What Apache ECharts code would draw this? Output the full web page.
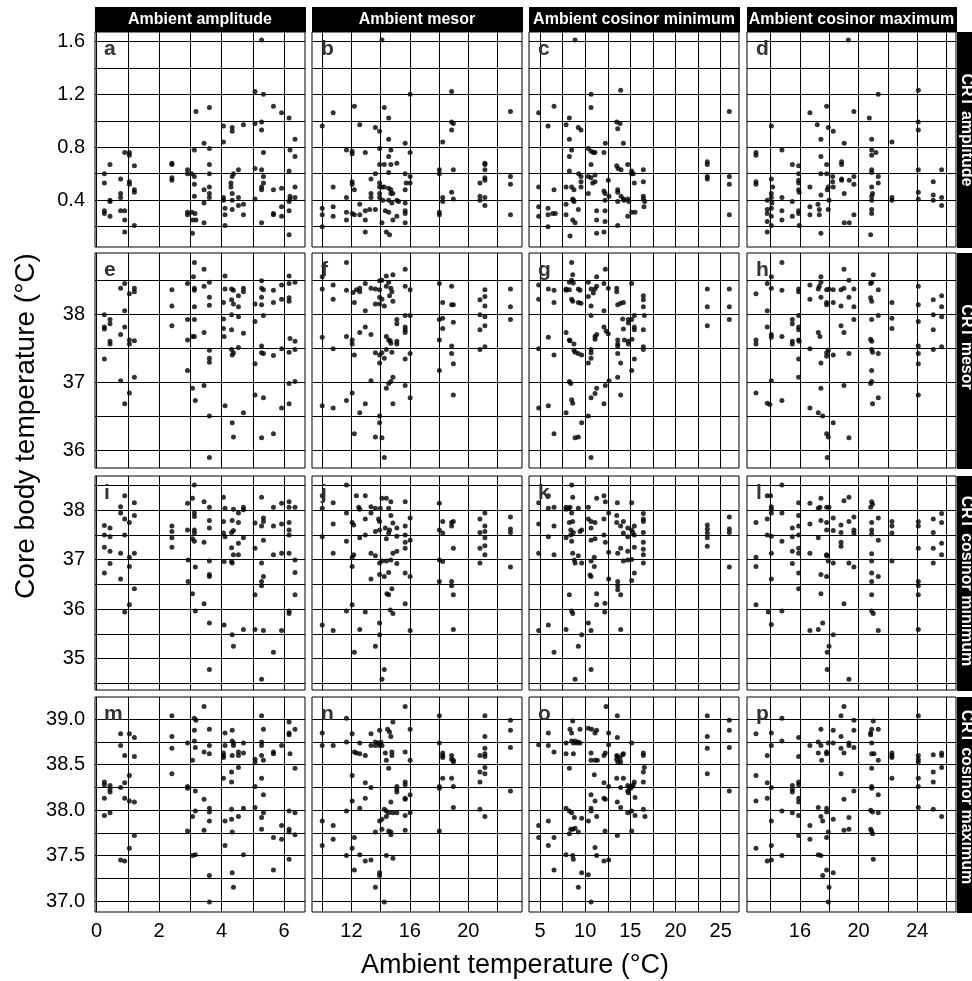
<!DOCTYPE html>
<html><head><meta charset="utf-8">
<script src="https://cdn.jsdelivr.net/npm/echarts@6/dist/echarts.min.js"></script>
<style>html,body{margin:0;padding:0;background:#fff}#c{width:972px;height:981px}</style>
</head><body><div id="c"></div>
<script>
// ---------- labels ----------
const colStrips = ["Ambient amplitude", "Ambient mesor", "Ambient cosinor minimum", "Ambient cosinor maximum"];
const rowStrips = ["CRT amplitude", "CRT mesor", "CRT cosinor minimum", "CRT cosinor maximum"];
const panelLetters = ["a","b","c","d","e","f","g","h","i","j","k","l","m","n","o","p"];
const xTitle = "Ambient temperature (°C)";
const yTitle = "Core body temperature (°C)";

// ---------- axes ----------
const xRanges = [[-0.05, 6.67], [9.3, 23.68], [3.78, 27.03], [12.39, 26.64]];
const yRanges = [[0.047, 1.67], [35.735, 38.9], [34.365, 38.69], [36.879, 39.245]];
const xTicks = [[0, 2, 4, 6], [12, 16, 20], [5, 10, 15, 20, 25], [16, 20, 24]];
const yTicks = [[0.4, 0.8, 1.2, 1.6], [36, 37, 38], [35, 36, 37, 38], [37, 37.5, 38, 38.5, 39]];
const xGridVals = [[0,1,2,3,4,5,6], [10,12,14,16,18,20,22], [5,7.5,10,12.5,15,17.5,20,22.5,25], [14,16,18,20,22,24,26]];
const yGridVals = [[0.2,0.4,0.6,0.8,1.0,1.2,1.4,1.6], [36,36.5,37,37.5,38,38.5], [34.5,35,35.5,36,36.5,37,37.5,38,38.5], [37,37.25,37.5,37.75,38,38.25,38.5,38.75,39]];

// ---------- data (x = ambient, y = core body temperature) ----------
const pa = [[0.25,0.60],[0.25,0.53],[0.25,0.32],[0.25,0.30],[0.43,0.67],[0.43,0.40],[0.43,0.39],[0.43,0.28],[0.77,0.56],[0.77,0.45],[0.77,0.42],[0.77,0.32],[0.90,0.76],[0.90,0.32],[0.90,0.25],[0.90,0.16],[1.05,0.76],[1.05,0.74],[1.05,0.54],[1.05,0.52],[1.21,0.66],[1.21,0.48],[1.21,0.46],[1.21,0.21],[2.41,0.68],[2.41,0.67],[2.41,0.57],[2.41,0.55],[2.91,0.63],[2.91,0.60],[2.91,0.31],[2.91,0.29],[3.04,0.60],[3.07,0.15],[3.13,0.78],[3.13,0.58],[3.13,0.52],[3.13,0.43],[3.18,1.07],[3.05,0.31],[3.07,0.25],[3.15,0.30],[3.18,0.25],[3.44,0.83],[3.44,0.48],[3.44,0.38],[3.44,0.23],[3.61,1.10],[3.61,0.79],[3.61,0.67],[3.61,0.60],[3.61,0.50],[3.61,0.45],[3.61,0.42],[4.06,0.96],[4.06,0.84],[4.06,0.42],[4.06,0.40],[4.11,0.34],[4.11,0.29],[4.11,0.21],[4.34,0.95],[4.34,0.92],[4.30,0.53],[4.30,0.50],[4.34,0.58],[4.34,0.45],[4.34,0.40],[4.34,0.33],[4.38,0.60],[4.54,0.63],[4.54,0.42],[4.54,0.36],[4.70,0.97],[4.70,0.37],[4.70,0.29],[5.07,0.98],[5.07,1.22],[5.07,0.64],[5.07,0.41],[5.28,1.61],[5.28,0.99],[5.28,0.93],[5.28,0.63],[5.28,0.50],[5.28,0.48],[5.28,0.23],[5.34,1.20],[5.34,0.76],[5.34,0.58],[5.34,0.53],[5.66,1.11],[5.66,0.48],[5.66,0.30],[5.66,0.29],[5.92,1.06],[5.92,0.49],[5.92,0.35],[5.92,0.28],[6.16,1.02],[6.16,0.62],[6.16,0.39],[6.16,0.32],[6.16,0.14],[6.19,0.78],[6.19,0.43],[6.19,0.41],[6.35,0.86],[6.35,0.73],[6.35,0.50],[6.35,0.42]];
const pb = [[10.0,0.96],[10.0,0.34],[10.0,0.29],[10.0,0.20],[10.75,1.06],[10.75,0.50],[10.75,0.35],[10.75,0.28],[11.66,0.42],[11.66,0.78],[11.66,0.31],[11.66,0.25],[12.05,0.77],[12.05,0.75],[12.05,0.54],[12.05,0.52],[12.05,0.30],[12.2,1.11],[12.2,0.48],[12.2,0.29],[12.57,0.97],[12.57,0.37],[12.57,0.29],[12.95,0.76],[12.95,0.32],[12.95,0.25],[12.95,0.16],[13.25,0.33],[13.34,0.56],[13.34,0.45],[13.34,0.42],[13.64,0.95],[13.64,0.33],[13.64,0.60],[13.93,0.92],[13.93,0.79],[13.93,0.67],[13.93,0.53],[13.93,0.50],[13.93,0.45],[13.93,0.42],[14.09,1.61],[14.09,0.50],[14.09,0.23],[14.16,0.40],[14.25,1.10],[14.25,0.67],[14.25,0.50],[14.32,0.32],[14.39,0.16],[14.55,1.02],[14.55,0.86],[14.55,0.73],[14.55,0.61],[14.55,0.49],[14.55,0.40],[14.55,0.31],[14.61,0.14],[14.7,0.78],[14.7,0.67],[14.7,0.48],[14.7,0.45],[14.77,0.38],[14.84,0.25],[14.84,0.45],[15.11,0.68],[15.11,0.40],[15.11,0.28],[15.23,0.39],[15.68,0.83],[15.68,0.60],[15.68,0.48],[15.68,0.38],[15.68,0.32],[15.68,0.30],[15.68,0.23],[15.75,0.53],[16.02,1.20],[16.02,0.76],[16.02,0.58],[16.02,0.53],[18.02,0.63],[18.02,0.60],[18.02,0.31],[18.02,0.29],[18.25,0.84],[18.25,0.42],[18.25,0.39],[18.86,1.22],[18.86,0.99],[18.86,0.93],[18.86,0.46],[18.98,0.98],[18.98,0.63],[18.98,0.41],[20.8,0.53],[20.8,0.43],[20.8,0.40],[21.14,0.68],[21.14,0.67],[21.14,0.63],[21.14,0.57],[21.14,0.55],[21.14,0.42],[21.14,0.36],[22.89,1.07],[22.89,0.58],[22.89,0.52],[22.89,0.29]];
const pc = [[4.85,1.06],[4.85,0.50],[4.85,0.35],[4.85,0.28],[5.89,0.96],[5.89,0.34],[5.89,0.29],[5.89,0.20],[6.55,1.11],[6.55,0.48],[6.4,0.30],[6.7,0.30],[7.88,0.97],[7.88,0.50],[7.88,0.37],[7.88,0.29],[8.25,1.02],[8.25,0.86],[8.25,0.73],[8.25,0.62],[8.32,0.13],[8.5,0.78],[8.5,0.50],[8.62,0.41],[8.69,0.40],[8.62,0.25],[8.88,1.61],[8.88,0.23],[8.76,0.48],[8.76,0.39],[9.24,0.95],[9.24,0.33],[9.28,0.60],[9.54,0.93],[9.54,0.58],[9.54,0.54],[9.54,0.50],[10.35,0.79],[10.35,0.58],[10.35,0.45],[10.65,1.20],[10.65,1.10],[10.65,0.77],[10.65,0.67],[10.65,0.57],[10.83,0.53],[10.9,0.76],[11.09,0.76],[11.09,0.59],[11.09,0.54],[11.27,0.32],[11.27,0.25],[11.27,0.15],[12.08,0.76],[12.23,0.83],[12.08,0.47],[12.2,0.45],[12.2,0.40],[12.2,0.32],[12.2,0.24],[12.08,0.16],[12.56,0.55],[12.64,0.43],[13.49,0.99],[13.6,0.94],[13.86,0.98],[13.93,1.23],[13.49,0.66],[13.64,0.64],[13.6,0.48],[13.6,0.46],[13.6,0.39],[13.6,0.21],[13.97,0.63],[13.97,0.43],[14.23,0.83],[14.23,0.41],[14.3,0.40],[14.71,0.67],[14.71,0.41],[14.71,0.28],[14.82,0.39],[15.15,0.62],[15.15,0.60],[15.15,0.31],[15.33,0.60],[15.44,0.53],[15.52,0.31],[16.44,0.63],[16.44,0.54],[16.44,0.43],[16.44,0.41],[16.51,0.35],[16.59,0.39],[23.52,0.69],[23.52,0.67],[23.52,0.58],[23.52,0.56],[25.96,1.07],[25.96,0.58],[25.96,0.52],[25.96,0.29]];
const pd = [[13.0,0.76],[13.0,0.74],[13.0,0.54],[13.0,0.52],[13.77,0.40],[13.77,0.33],[13.77,0.30],[13.77,0.24],[13.77,0.16],[14.05,0.96],[14.05,0.56],[14.05,0.45],[14.05,0.42],[14.05,0.34],[14.05,0.28],[14.05,0.21],[14.09,0.38],[14.14,0.50],[14.77,0.78],[14.77,0.42],[14.77,0.32],[14.77,0.25],[15.48,0.67],[15.48,0.39],[15.48,0.28],[15.91,0.66],[15.91,0.60],[15.91,0.55],[15.91,0.53],[15.91,0.48],[15.95,0.46],[15.91,0.32],[15.91,0.30],[15.95,0.21],[16.68,1.06],[16.68,0.50],[16.68,0.35],[16.68,0.29],[17.18,0.97],[17.23,0.37],[17.32,0.33],[17.32,0.29],[17.43,0.86],[17.43,0.73],[17.43,0.60],[17.43,0.44],[17.43,0.15],[17.82,1.11],[17.82,0.67],[17.82,0.60],[17.86,0.48],[17.93,0.95],[17.93,0.50],[17.93,0.33],[17.98,0.40],[18.27,0.92],[18.23,0.58],[18.23,0.54],[18.27,0.50],[18.84,0.69],[18.84,0.67],[18.84,0.56],[18.84,0.55],[19.02,0.83],[19.02,0.45],[19.02,0.23],[19.36,0.23],[19.36,0.55],[19.3,1.61],[19.68,1.07],[19.68,0.58],[19.68,0.52],[19.68,0.29],[20.73,1.02],[20.89,0.86],[20.89,0.78],[20.89,0.74],[20.89,0.63],[20.89,0.61],[20.89,0.50],[20.89,0.43],[20.89,0.40],[20.89,0.33],[20.89,0.30],[20.82,0.14],[20.95,0.45],[21.18,0.76],[21.34,1.20],[21.34,0.58],[21.34,0.53],[22.27,0.84],[22.27,0.42],[22.27,0.40],[24.07,1.23],[24.07,0.99],[24.07,0.93],[24.07,0.63],[24.07,0.46],[24.07,0.41],[25.09,0.54],[25.09,0.44],[25.09,0.40],[25.66,0.63],[25.66,0.42],[25.66,0.36]];
const pe = [[0.25,37.99],[0.25,37.81],[0.25,37.78],[0.25,37.34],[0.43,37.92],[0.43,37.86],[0.43,37.6],[0.43,37.56],[0.77,38.38],[0.77,37.7],[0.77,37.02],[0.9,38.45],[0.9,38.05],[0.9,37.81],[0.9,36.68],[1.05,38.3],[1.05,37.62],[1.05,37.56],[1.05,36.84],[1.21,38.38],[1.21,38.33],[1.21,37.61],[1.21,37.07],[2.41,38.36],[2.41,38.12],[2.41,37.83],[2.91,38.45],[2.91,37.92],[2.91,37.62],[2.91,37.17],[3.07,36.91],[3.1,38.55],[3.13,38.76],[3.13,38.38],[3.13,38.35],[3.13,38.11],[3.13,37.92],[3.13,37.67],[3.16,36.73],[3.07,37.67],[3.44,38.66],[3.44,38.41],[3.44,37.73],[3.44,36.95],[3.61,38.47],[3.61,38.25],[3.61,38.13],[3.61,37.47],[3.61,37.35],[3.61,37.29],[3.61,36.5],[3.61,35.89],[4.06,38.17],[4.06,37.93],[4.06,37.79],[4.08,37.67],[4.11,38.56],[4.11,38.37],[4.11,36.65],[4.32,38.37],[4.32,38.21],[4.32,37.99],[4.32,37.77],[4.32,37.48],[4.34,37.4],[4.34,36.4],[4.38,38.35],[4.38,38.15],[4.38,36.19],[4.38,37.43],[4.54,38.27],[4.54,38.11],[4.54,37.96],[4.54,37.51],[4.7,38.38],[4.7,38.33],[4.7,37.72],[4.7,36.55],[5.07,38.15],[5.07,37.89],[5.07,37.27],[5.07,36.81],[5.28,38.49],[5.28,38.38],[5.28,38.25],[5.28,38.14],[5.28,37.53],[5.28,37.43],[5.28,36.18],[5.34,38.36],[5.34,37.98],[5.34,37.42],[5.34,36.77],[5.66,38.35],[5.66,38.17],[5.66,37.39],[5.66,36.24],[5.92,38.43],[5.92,38.22],[5.92,37.49],[5.92,36.62],[6.16,38.56],[6.16,38.45],[6.16,38.24],[6.16,38.19],[6.16,37.44],[6.16,36.98],[6.16,36.68],[6.19,37.64],[6.35,38.47],[6.35,37.6],[6.35,37.48],[6.35,37.01]];
const pf = [[10,38.55],[10,38.37],[10,37.66],[10,36.65],[10.75,38.43],[10.75,38.22],[10.75,37.49],[10.75,36.62],[11.66,38.76],[11.66,38.35],[11.66,37.67],[11.66,36.73],[12.05,37.62],[12.05,37.56],[12.05,36.84],[12.11,38.32],[12.2,38.17],[12.2,37.4],[12.2,36.24],[12.34,38.36],[12.57,38.38],[12.57,38.33],[12.57,37.73],[12.57,36.55],[12.95,38.05],[12.95,37.81],[12.95,36.68],[12.95,38.45],[13.34,38.38],[13.34,37.7],[13.34,37.02],[13.64,38.37],[13.64,38.15],[13.64,37.43],[13.64,36.19],[13.93,38.49],[13.93,38.36],[13.93,38.25],[13.93,38.15],[13.93,37.4],[13.93,37.28],[13.93,36.5],[13.93,36.4],[14.09,36.18],[14.09,38.5],[14.09,38.22],[14.09,37.43],[14.25,38.12],[14.25,37.35],[14.25,35.89],[14.39,38.56],[14.39,38.41],[14.39,37.67],[14.39,37.48],[14.39,36.91],[14.55,38.47],[14.55,37.62],[14.55,36.98],[14.61,38.27],[14.66,37.61],[14.7,38.38],[14.7,37.57],[14.7,37.01],[14.77,38.33],[14.77,37.44],[14.84,38.58],[14.84,38.19],[14.84,37.07],[14.84,36.68],[15.11,37.92],[15.11,37.86],[15.11,37.6],[15.11,37.56],[15.68,38.66],[15.68,38.41],[15.68,37.98],[15.68,37.81],[15.68,37.77],[15.68,37.73],[15.68,37.34],[15.68,36.95],[16.02,38.36],[16.02,37.98],[16.02,37.42],[16.02,36.77],[18.02,38.45],[18.02,37.92],[18.02,37.62],[18.02,37.17],[18.25,37.94],[18.25,37.79],[18.25,38.17],[18.86,38.41],[18.86,38.14],[18.86,37.53],[18.86,37.42],[18.98,38.14],[18.98,37.88],[18.98,37.27],[18.98,36.81],[20.8,38.21],[20.8,37.99],[20.8,37.77],[20.8,37.48],[21.14,38.36],[21.14,38.26],[21.14,38.12],[21.14,37.96],[21.14,37.83],[21.14,37.52],[22.89,38.37],[22.89,38.11],[22.89,37.92]];
const pg = [[4.85,38.43],[4.85,38.22],[4.85,37.49],[4.85,36.62],[5.92,38.37],[5.92,37.66],[5.92,36.65],[6.55,38.35],[6.55,38.17],[6.55,37.4],[6.55,36.24],[7.88,38.37],[7.88,38.35],[7.88,37.73],[7.88,36.55],[8.25,38.47],[8.25,38.36],[8.25,37.62],[8.25,37.01],[8.32,37.61],[8.4,36.98],[8.5,38.76],[8.5,38.5],[8.5,38.22],[8.5,36.74],[8.62,38.58],[8.62,38.19],[8.62,36.69],[8.69,38.46],[8.76,37.56],[8.76,37.47],[8.88,37.44],[8.88,36.18],[9.24,38.37],[9.24,38.17],[9.24,37.42],[9.24,36.19],[9.43,38.35],[9.54,38.16],[9.61,37.4],[9.61,36.4],[10.35,38.47],[10.35,38.26],[10.35,37.28],[10.35,36.5],[10.65,38.37],[10.65,38.12],[10.65,37.98],[10.65,37.48],[10.65,37.43],[10.65,37.35],[10.65,36.77],[10.65,35.89],[10.9,38.31],[11.09,38.37],[11.09,37.67],[11.09,37.63],[11.09,36.83],[11.27,38.55],[11.27,38.41],[11.27,37.7],[11.27,36.91],[12.08,38.45],[12.08,38.05],[12.08,37.81],[12.08,36.68],[12.23,38.66],[12.23,36.95],[12.31,37.75],[12.56,38.38],[12.56,37.71],[12.64,37.02],[13.49,38.38],[13.49,38.33],[13.6,38.14],[13.6,37.62],[13.6,37.56],[13.6,37.53],[13.6,37.42],[13.6,37.07],[13.93,38.16],[13.93,37.28],[13.93,36.81],[14.23,38.17],[14.15,37.93],[14.23,37.78],[14.34,37.62],[14.78,37.92],[14.78,37.87],[14.78,37.6],[14.78,37.56],[15.15,38.45],[15.15,37.92],[15.15,37.17],[15.18,37.63],[15.44,37.98],[15.44,37.81],[15.44,37.77],[15.44,37.34],[16.44,38.27],[16.44,38.21],[16.44,38.11],[16.44,37.77],[16.44,37.52],[16.44,37.48],[16.55,37.98],[23.52,38.37],[23.52,38.11],[23.52,37.83],[25.96,38.37],[25.96,38.11],[25.96,37.92]];
const ph = [[13.0,38.3],[13.0,37.62],[13.0,37.56],[13.0,36.84],[13.77,38.45],[13.77,38.05],[13.77,37.81],[13.77,36.69],[13.95,36.67],[14.05,38.55],[14.05,38.38],[14.05,37.7],[14.05,37.66],[14.05,37.02],[14.77,38.76],[14.77,38.35],[14.77,37.67],[14.77,36.73],[15.48,37.92],[15.48,37.86],[15.48,37.6],[15.48,37.56],[15.91,38.37],[15.91,38.33],[15.91,37.98],[15.91,37.81],[15.91,37.77],[15.91,37.62],[15.91,37.34],[15.91,37.07],[15.95,37.6],[16.68,38.43],[16.68,38.22],[16.68,37.49],[16.68,36.62],[17.25,38.37],[17.25,37.73],[17.25,36.55],[17.32,38.41],[17.36,37.67],[17.43,38.55],[17.43,38.47],[17.43,38.25],[17.43,37.28],[17.43,36.91],[17.55,36.5],[17.82,38.36],[17.82,38.17],[17.82,38.14],[17.82,37.43],[17.82,37.38],[17.82,36.24],[17.93,36.19],[17.93,37.47],[17.86,35.89],[17.98,38.37],[18.27,38.36],[18.27,38.17],[18.27,37.4],[18.27,36.4],[18.8,38.36],[18.8,38.12],[18.8,37.83],[19.0,38.66],[19.0,38.38],[19.0,37.73],[19.0,36.95],[19.34,38.5],[19.34,38.25],[19.34,37.42],[19.34,36.18],[19.68,38.37],[19.68,38.11],[19.68,37.92],[20.82,38.45],[20.82,38.24],[20.82,37.63],[20.82,36.98],[20.89,38.47],[20.89,38.19],[20.89,37.92],[20.89,37.6],[20.89,37.48],[20.89,37.17],[20.89,37.01],[20.95,37.44],[20.95,36.68],[21.0,38.58],[21.34,38.36],[21.34,37.98],[21.34,37.42],[21.34,36.77],[22.27,38.17],[22.27,37.94],[22.27,37.79],[24.07,38.41],[24.07,38.14],[24.07,37.89],[24.07,37.53],[24.07,37.42],[24.07,37.27],[24.07,36.81],[25.09,38.21],[25.09,37.99],[25.09,37.77],[25.09,37.48],[25.66,38.27],[25.66,38.11],[25.66,37.96],[25.66,37.52]];
const pi = [[0.25,37.69],[0.25,37.5],[0.25,37.25],[0.25,36.73],[0.43,37.64],[0.43,37.46],[0.43,37.17],[0.43,36.92],[0.77,38.07],[0.77,37.94],[0.77,37.13],[0.77,36.61],[0.9,38.29],[0.9,37.82],[0.9,37.5],[0.9,35.94],[1.05,37.75],[1.05,37.05],[1.05,36.86],[1.05,36.09],[1.21,38.15],[1.21,37.89],[1.21,37.13],[1.21,36.41],[2.41,37.68],[2.41,37.57],[2.41,37.44],[2.41,37.25],[2.91,38.14],[2.91,37.6],[2.93,36.99],[2.93,36.56],[3.07,38.24],[3.07,37.42],[3.07,36.31],[3.13,38.51],[3.13,37.94],[3.13,37.87],[3.13,37.6],[3.13,37.54],[3.13,37.37],[3.16,36.85],[3.16,35.96],[3.44,38.17],[3.44,37.35],[3.44,36.11],[3.61,38.06],[3.61,37.79],[3.61,37.64],[3.61,36.97],[3.61,36.7],[3.61,36.66],[3.61,35.72],[3.61,34.78],[4.06,38.26],[4.06,37.77],[4.06,37.54],[4.08,36.96],[4.08,35.68],[4.11,38.04],[4.11,37.46],[4.32,37.55],[4.32,37.24],[4.32,36.96],[4.34,36.93],[4.34,37.79],[4.34,35.48],[4.38,38.02],[4.38,37.59],[4.38,37.1],[4.38,35.25],[4.54,37.94],[4.54,37.75],[4.54,37.33],[4.54,37.1],[4.7,38.06],[4.7,38.01],[4.7,37.44],[4.7,35.59],[5.07,37.74],[5.07,37.23],[5.07,36.29],[5.07,35.59],[5.28,38.26],[5.28,37.68],[5.28,36.93],[5.28,36.56],[5.28,36.47],[5.28,34.58],[5.34,37.84],[5.34,37.77],[5.34,37.39],[5.34,36.66],[5.34,35.57],[5.66,38.06],[5.66,37.68],[5.66,37.1],[5.66,35.13],[5.92,38.14],[5.92,37.72],[5.92,37.13],[5.92,35.57],[6.16,38.17],[6.16,38.06],[6.16,37.75],[6.16,37.6],[6.16,37.5],[6.16,37.13],[6.16,35.96],[6.16,35.91],[6.35,38.06],[6.35,36.99],[6.35,36.74],[6.35,36.29]];
const pj = [[10.0,38.29],[10.0,38.04],[10.0,37.46],[10.0,35.68],[10.75,38.15],[10.75,37.72],[10.75,37.13],[10.75,35.57],[11.66,38.51],[11.66,37.94],[11.66,37.37],[11.66,35.96],[12.05,37.75],[12.05,37.05],[12.05,36.86],[12.05,36.09],[12.16,37.7],[12.16,37.1],[12.2,35.13],[12.34,38.29],[12.5,38.06],[12.57,38.02],[12.57,37.44],[12.57,35.59],[12.95,38.29],[12.95,37.82],[12.95,37.5],[12.95,35.94],[13.34,38.07],[13.34,37.94],[13.34,37.13],[13.34,36.61],[13.64,38.04],[13.64,37.57],[13.64,37.08],[13.64,35.25],[13.86,37.82],[13.93,37.77],[13.93,37.6],[13.93,36.93],[13.93,36.7],[13.93,35.72],[13.93,35.48],[13.98,38.04],[14.09,38.24],[14.09,34.58],[14.09,36.97],[14.25,36.66],[14.25,34.78],[14.32,37.64],[14.39,38.24],[14.39,37.42],[14.39,36.97],[14.43,36.31],[14.55,38.04],[14.55,37.54],[14.55,36.74],[14.55,36.29],[14.61,37.6],[14.66,35.98],[14.7,38.17],[14.7,37.89],[14.7,36.99],[14.77,36.41],[14.84,35.91],[14.84,37.74],[14.84,37.13],[15.11,37.64],[15.11,37.47],[15.11,37.17],[15.11,36.92],[15.68,38.17],[15.68,37.68],[15.68,37.5],[15.68,37.35],[15.68,37.23],[15.68,36.73],[15.68,36.11],[16.02,37.84],[16.02,37.39],[16.02,36.66],[16.02,35.57],[18.02,38.14],[18.02,37.6],[18.02,36.99],[18.02,36.56],[18.25,37.77],[18.25,37.54],[18.25,36.96],[18.86,37.75],[18.86,37.68],[18.86,36.56],[18.86,36.47],[18.98,37.77],[18.98,37.23],[18.98,36.29],[18.98,35.59],[20.8,37.82],[20.8,37.23],[20.8,36.93],[20.8,37.55],[21.14,37.94],[21.14,37.68],[21.14,37.57],[21.14,37.44],[21.14,37.28],[21.14,37.1],[22.89,37.86],[22.89,37.62],[22.89,37.55],[22.89,36.85]];
const pk = [[4.85,38.15],[4.85,37.72],[4.85,37.13],[4.85,35.57],[5.92,38.29],[5.92,38.04],[5.92,37.46],[5.92,35.68],[6.55,38.06],[6.55,37.68],[6.55,37.1],[6.55,35.13],[7.88,38.06],[7.88,38.02],[7.88,37.44],[7.88,35.59],[8.14,38.04],[8.25,37.75],[8.25,36.29],[8.32,38.06],[8.4,37.6],[8.4,37.5],[8.5,38.51],[8.5,37.94],[8.5,37.37],[8.5,35.96],[8.62,38.26],[8.62,37.77],[8.62,37.13],[8.62,35.91],[8.69,37.55],[8.8,36.99],[8.88,34.58],[8.88,36.93],[9.24,38.04],[9.24,37.08],[9.24,35.25],[9.43,37.57],[9.61,37.6],[9.61,36.93],[9.61,35.48],[10.35,38.06],[10.35,37.82],[10.35,35.72],[10.54,36.69],[10.65,37.77],[10.65,37.64],[10.65,37.39],[10.65,36.97],[10.65,36.66],[10.65,35.57],[10.65,34.78],[11.01,37.05],[11.01,36.86],[11.09,37.75],[11.09,37.42],[11.27,38.24],[11.27,36.31],[11.27,36.09],[12.08,38.29],[12.08,37.82],[12.08,37.5],[12.16,35.94],[12.19,36.12],[12.23,38.17],[12.23,37.35],[12.6,37.94],[12.6,37.15],[12.6,36.61],[13.49,37.89],[13.49,37.75],[13.56,38.15],[13.6,37.13],[13.6,36.56],[13.6,36.47],[13.6,36.39],[13.93,37.68],[13.93,37.23],[13.93,36.29],[13.93,35.59],[14.23,37.77],[14.23,37.54],[14.23,36.97],[14.71,37.64],[14.71,37.46],[14.71,37.17],[14.71,36.99],[15.15,38.15],[15.15,37.6],[15.15,37.0],[15.15,36.58],[15.26,37.55],[15.44,37.68],[15.44,37.5],[15.44,37.25],[15.44,36.73],[16.44,37.93],[16.44,37.82],[16.44,37.77],[16.44,37.55],[16.44,37.35],[16.44,37.21],[16.44,37.1],[16.44,36.93],[23.52,37.7],[23.52,37.62],[23.52,37.54],[23.52,37.44],[23.52,37.27],[25.96,37.86],[25.96,37.62],[25.96,37.55],[25.96,36.85]];
const pl = [[13.0,37.75],[13.0,37.05],[13.0,36.86],[13.0,36.09],[13.77,38.29],[13.77,37.82],[13.77,37.5],[13.84,35.94],[14.0,38.29],[14.05,38.07],[14.05,38.02],[14.05,37.94],[14.05,37.47],[14.05,37.13],[14.05,36.61],[14.05,35.69],[14.77,38.51],[14.77,37.94],[14.77,37.37],[14.77,35.96],[15.48,37.64],[15.48,37.46],[15.48,37.17],[15.48,36.92],[15.91,38.15],[15.91,37.89],[15.91,37.68],[15.91,37.5],[15.91,37.23],[15.91,37.13],[15.91,36.73],[15.91,36.41],[16.68,38.14],[16.68,37.72],[16.68,37.13],[16.68,35.57],[17.25,38.04],[17.25,37.44],[17.25,35.59],[17.36,38.06],[17.43,38.24],[17.43,37.79],[17.43,36.7],[17.43,36.31],[17.55,35.72],[17.82,38.06],[17.82,37.75],[17.82,37.6],[17.82,37.1],[17.82,37.08],[17.82,36.66],[17.86,35.13],[17.86,34.78],[17.93,36.97],[17.98,35.25],[17.98,38.06],[18.27,37.84],[18.27,37.59],[18.27,36.93],[18.27,35.48],[18.8,37.7],[18.8,37.55],[18.8,37.35],[18.8,37.27],[19.0,38.19],[19.0,36.11],[19.34,38.26],[19.34,37.77],[19.34,36.93],[19.34,34.58],[19.68,37.86],[19.68,37.6],[19.68,37.54],[19.68,36.85],[20.82,38.06],[20.89,38.17],[20.89,37.75],[20.89,37.6],[20.89,37.52],[20.89,37.12],[20.89,36.97],[20.89,36.73],[20.89,36.56],[20.89,36.29],[20.89,35.96],[21.0,35.91],[20.95,38.12],[21.34,37.84],[21.34,37.39],[21.34,36.66],[21.34,35.57],[22.27,37.77],[22.27,37.68],[22.27,37.54],[22.27,36.97],[24.07,37.77],[24.07,37.68],[24.07,37.23],[24.07,36.56],[24.07,36.47],[24.07,36.29],[24.07,35.59],[25.09,37.82],[25.09,37.55],[25.09,37.23],[25.09,36.93],[25.66,37.93],[25.66,37.75],[25.66,37.33],[25.66,37.1]];
const pm = [[2.41,39.04],[3.13,39.01],[3.44,39.14],[5.28,39.04],[6.16,38.97],[0.25,38.31],[0.25,38.28],[0.25,38.13],[0.25,37.94],[0.43,38.27],[0.43,38.23],[0.43,38.2],[0.43,37.97],[0.77,38.84],[0.77,38.71],[0.77,38.25],[0.77,37.45],[0.9,38.6],[0.9,38.3],[0.9,38.13],[0.9,37.44],[1.05,38.84],[1.05,38.38],[1.05,38.1],[1.05,37.58],[1.21,38.8],[1.21,38.59],[1.21,38.09],[1.21,37.72],[2.41,38.81],[2.41,38.68],[2.41,38.4],[2.91,38.74],[2.91,38.26],[2.91,38.24],[2.91,37.77],[3.07,38.55],[3.07,37.93],[3.07,37.5],[3.13,38.88],[3.13,38.76],[3.16,38.69],[3.16,38.21],[3.16,37.99],[3.16,37.51],[3.18,38.99],[3.44,38.64],[3.44,38.12],[3.44,37.78],[3.61,38.89],[3.61,38.71],[3.61,38.62],[3.61,38.02],[3.61,37.98],[3.61,37.88],[3.61,37.28],[3.61,36.99],[4.06,38.63],[4.06,38.6],[4.06,38.58],[4.06,38.35],[4.11,38.85],[4.11,38.71],[4.11,37.88],[4.11,37.61],[4.32,38.42],[4.32,38.31],[4.32,38.01],[4.32,37.9],[4.34,38.88],[4.34,38.76],[4.34,38.6],[4.34,37.76],[4.34,37.31],[4.38,38.74],[4.38,38.71],[4.38,37.15],[4.54,38.64],[4.54,38.6],[4.54,38.47],[4.54,37.93],[4.7,38.74],[4.7,38.63],[4.7,38.02],[4.7,37.51],[5.07,38.56],[5.07,38.53],[5.07,38.26],[5.07,38.03],[5.28,38.75],[5.28,38.71],[5.28,38.6],[5.28,38.35],[5.28,37.92],[5.28,37.79],[5.34,38.89],[5.34,38.55],[5.34,38.17],[5.34,37.97],[5.66,38.64],[5.66,38.62],[5.66,37.7],[5.66,37.34],[5.92,38.71],[5.92,37.83],[5.92,37.68],[6.16,38.85],[6.16,38.83],[6.19,38.62],[6.16,37.99],[6.16,37.79],[6.16,37.76],[6.16,37.46],[6.35,38.89],[6.35,38.46],[6.35,37.97],[6.35,37.73]];
const pn = [[11.66,39.01],[15.68,39.14],[18.02,39.04],[21.14,39.04],[14.84,38.97],[10.0,38.85],[10.0,38.71],[10.0,37.88],[10.0,37.61],[10.75,37.83],[10.75,37.68],[10.75,38.71],[11.66,38.75],[11.66,37.99],[11.66,37.5],[12.05,38.84],[12.05,38.38],[12.05,38.1],[12.05,37.58],[12.2,38.64],[12.2,37.7],[12.2,37.34],[12.34,38.63],[12.57,38.74],[12.57,38.62],[12.57,38.02],[12.57,37.51],[12.95,38.6],[12.95,38.3],[12.95,38.13],[12.95,37.44],[13.34,38.84],[13.34,38.71],[13.34,38.25],[13.34,37.45],[13.64,38.75],[13.64,38.71],[13.64,37.76],[13.64,37.15],[13.86,38.74],[13.93,38.88],[13.93,38.71],[13.93,37.88],[13.93,37.31],[13.93,37.28],[14.02,38.75],[14.09,37.9],[14.09,38.71],[14.09,37.79],[14.25,38.01],[14.25,36.99],[14.32,38.63],[14.39,37.99],[14.39,38.55],[14.39,37.5],[14.39,37.93],[14.48,38.89],[14.55,38.46],[14.55,37.97],[14.55,37.77],[14.61,38.86],[14.7,38.81],[14.7,38.09],[14.7,37.76],[14.7,37.73],[14.77,38.64],[14.77,38.6],[14.84,37.47],[14.84,37.97],[15.11,38.26],[15.11,38.23],[15.11,38.2],[15.11,37.97],[15.68,38.64],[15.68,38.31],[15.68,38.28],[15.68,38.13],[15.68,38.12],[15.68,37.94],[15.68,37.78],[16.02,38.89],[16.02,38.55],[16.02,38.17],[16.02,37.97],[18.02,38.74],[18.02,38.26],[18.02,38.24],[18.02,37.77],[18.25,38.63],[18.25,38.6],[18.25,38.58],[18.25,38.35],[18.86,38.6],[18.86,38.56],[18.86,38.35],[18.98,38.55],[18.98,38.53],[18.98,38.26],[18.98,38.03],[20.8,38.6],[20.8,38.42],[20.8,38.31],[20.8,38.01],[21.14,38.81],[21.14,38.68],[21.14,38.62],[21.14,38.59],[21.14,38.47],[21.14,38.4],[21.14,37.93],[22.89,38.99],[22.89,38.88],[22.89,38.69],[22.89,38.21]];
const po = [[12.31,39.14],[13.56,39.04],[23.52,39.04],[8.62,38.98],[8.32,38.89],[9.43,38.89],[10.35,38.9],[10.72,38.89],[11.09,38.85],[11.27,38.88],[5.92,38.85],[8.5,38.85],[4.85,38.72],[5.92,38.71],[6.55,38.64],[7.88,38.74],[7.88,38.62],[8.5,38.76],[8.69,38.74],[8.69,38.62],[8.88,38.76],[9.06,38.74],[9.24,38.75],[9.43,38.74],[8.25,38.46],[10.65,38.63],[10.65,38.55],[11.09,38.55],[11.35,38.55],[11.01,38.39],[12.6,38.85],[12.6,38.72],[12.08,38.6],[12.23,38.63],[12.08,38.3],[12.6,38.26],[12.08,38.13],[12.23,38.12],[13.56,38.8],[13.49,38.6],[13.49,38.56],[13.6,38.59],[13.86,38.57],[14.15,38.61],[14.23,38.62],[13.6,38.53],[13.93,38.53],[13.49,38.35],[14.23,38.35],[13.93,38.25],[13.56,38.09],[13.93,38.03],[15.15,38.74],[14.71,38.27],[14.89,38.25],[15.04,38.24],[15.15,38.26],[15.33,38.28],[14.71,38.21],[14.78,38.19],[15.44,38.31],[15.52,38.14],[14.71,37.97],[15.15,37.99],[15.52,37.94],[15.15,37.77],[16.44,38.63],[16.44,38.6],[16.55,38.47],[16.44,38.42],[16.44,38.31],[16.44,38.01],[16.62,37.93],[13.56,37.72],[10.65,38.17],[10.65,38.02],[10.65,37.99],[11.09,38.1],[11.27,37.93],[10.35,37.88],[9.61,37.91],[8.8,37.92],[7.88,38.02],[8.25,37.99],[8.5,37.97],[8.25,37.74],[8.4,37.79],[8.62,37.79],[8.88,37.8],[9.24,37.76],[12.2,37.77],[4.85,37.83],[4.85,37.7],[5.92,37.88],[5.92,37.61],[6.55,37.7],[6.55,37.34],[7.88,37.51],[8.62,37.5],[8.69,37.46],[9.61,37.31],[10.35,37.29],[9.24,37.15],[10.65,36.99],[11.09,37.59],[11.27,37.5],[12.08,37.44],[12.6,37.45],[23.52,38.81],[23.52,38.68],[23.52,38.4],[25.96,38.88],[25.96,38.69],[25.96,38.21],[25.96,38.99]];
const pp = [[14.77,39.01],[19.0,39.14],[18.8,39.04],[19.68,38.99],[24.07,39.04],[13.0,38.84],[13.0,38.38],[13.0,38.1],[13.0,37.58],[13.77,38.6],[13.77,38.3],[13.77,38.13],[13.77,37.44],[14.05,38.85],[14.05,38.71],[14.05,38.25],[14.05,37.88],[14.05,37.61],[14.05,37.45],[14.77,38.76],[14.77,37.99],[14.77,37.5],[15.48,38.27],[15.48,38.23],[15.48,38.2],[15.48,37.97],[15.91,38.8],[15.91,38.59],[15.91,38.31],[15.91,38.28],[15.91,38.13],[15.91,38.09],[15.91,37.94],[15.91,37.72],[16.68,38.71],[16.68,37.83],[16.68,37.68],[17.25,38.75],[17.25,38.63],[17.25,38.03],[17.25,37.51],[17.43,38.89],[17.43,38.71],[17.43,37.93],[17.43,37.5],[17.55,37.88],[17.48,38.55],[17.55,37.28],[17.82,38.64],[17.82,38.62],[17.82,38.02],[17.82,37.98],[17.82,37.7],[17.82,37.34],[17.93,38.74],[17.93,37.76],[17.98,37.15],[17.93,36.99],[18.27,38.88],[18.27,38.74],[18.27,37.9],[18.27,37.31],[18.8,38.81],[18.8,38.68],[18.8,38.4],[19.0,38.63],[19.0,38.12],[19.0,37.78],[19.34,38.74],[19.34,38.71],[19.34,37.92],[19.34,37.79],[19.68,38.88],[19.68,38.69],[19.68,38.21],[20.82,38.85],[20.82,38.83],[20.89,38.89],[20.89,38.74],[20.89,38.62],[20.89,38.46],[20.89,38.26],[20.89,38.24],[20.82,38.0],[20.95,37.98],[20.82,37.79],[20.89,37.77],[20.95,37.74],[21.0,37.46],[21.0,38.98],[21.05,38.62],[21.34,38.89],[21.34,38.55],[21.34,38.17],[21.34,37.97],[22.27,38.63],[22.27,38.6],[22.27,38.58],[22.27,38.35],[24.07,38.6],[24.07,38.56],[24.07,38.53],[24.07,38.35],[24.07,38.26],[24.07,38.03],[25.09,38.61],[25.09,38.42],[25.09,38.31],[25.09,38.01],[25.66,38.63],[25.66,38.6],[25.66,38.47],[25.66,37.93]];

const panels = [[pa, pb, pc, pd], [pe, pf, pg, ph], [pi, pj, pk, pl], [pm, pn, po, pp]];

// ---------- layout ----------
const FONT = '"Liberation Sans", Arial, Helvetica, sans-serif';
const cols = [{left: 95, w: 210}, {left: 312, w: 210}, {left: 529, w: 210}, {left: 747, w: 209}];
const rows = [{top: 32, h: 215}, {top: 253, h: 215}, {top: 476, h: 214}, {top: 697, h: 215}];
const rowStripCenters = [130, 347, 581, 797];

const grids = [], xAxes = [], yAxes = [], series = [], graphics = [];
const gridLine = {color: '#000', width: 1, type: 'solid'};

for (let r = 0; r < 4; r++) {
  for (let c = 0; c < 4; c++) {
    const i = r * 4 + c;
    grids.push({left: cols[c].left, top: rows[r].top, width: cols[c].w, height: rows[r].h,
      show: true, borderColor: '#000', borderWidth: 1, backgroundColor: '#fff', containLabel: false});
    xAxes.push({gridIndex: i, type: 'value', min: xRanges[c][0], max: xRanges[c][1],
      axisLine: {show: false}, axisTick: {show: false}, splitLine: {show: false},
      axisLabel: {show: r === 3, customValues: xTicks[c], margin: 9, fontSize: 20, color: '#000',
        fontFamily: FONT, formatter: v => String(v)}});
    yAxes.push({gridIndex: i, type: 'value', min: yRanges[r][0], max: yRanges[r][1],
      axisLine: {show: false}, axisTick: {show: false}, splitLine: {show: false},
      axisLabel: {show: c === 0, customValues: yTicks[r], margin: 10, fontSize: 20, color: '#000',
        fontFamily: FONT, formatter: v => (r === 0 || r === 3) ? v.toFixed(1) : String(v)}});
    const mlData = xGridVals[c].map(v => ({xAxis: v})).concat(yGridVals[r].map(v => ({yAxis: v})));
    series.push({type: 'scatter', xAxisIndex: i, yAxisIndex: i, data: [], silent: true, z: 1,
      markLine: {silent: true, symbol: ['none', 'none'], label: {show: false}, z: 1, animation: false,
        lineStyle: gridLine, emphasis: {disabled: true}, data: mlData}});
    series.push({type: 'scatter', xAxisIndex: i, yAxisIndex: i, data: panels[r][c], z: 4,
      symbol: 'circle', symbolSize: 5, itemStyle: {color: '#000'}, silent: true, clip: true});
    graphics.push({type: 'text', x: cols[c].left + 9, y: rows[r].top + 17, z: 10,
      style: {text: panelLetters[i], font: 'bold 21px ' + FONT, fill: '#333',
        textAlign: 'left', textVerticalAlign: 'middle'}});
  }
}
// column strips
for (let c = 0; c < 4; c++) {
  graphics.push({type: 'rect', shape: {x: cols[c].left, y: 7, width: cols[c].w + 1, height: 25}, style: {fill: '#000'}});
  graphics.push({type: 'text', x: cols[c].left + cols[c].w / 2, y: 20, z: 10,
    style: {text: colStrips[c], font: 'bold 16px ' + FONT, fill: '#fff', textAlign: 'center', textVerticalAlign: 'middle'}});
}
// row strips
for (let r = 0; r < 4; r++) {
  graphics.push({type: 'rect', shape: {x: 957, y: rows[r].top, width: 20, height: rows[r].h + 1}, style: {fill: '#000'}});
  graphics.push({type: 'text', x: 966, y: rowStripCenters[r], rotation: -Math.PI / 2, z: 10,
    style: {text: rowStrips[r], font: 'bold 16px ' + FONT, fill: '#fff', textAlign: 'center', textVerticalAlign: 'middle'}});
}
// axis titles
graphics.push({type: 'text', x: 515, y: 966, style: {text: xTitle, font: '27px ' + FONT, fill: '#000', textAlign: 'center', textVerticalAlign: 'middle'}});
graphics.push({type: 'text', x: 26, y: 426, rotation: Math.PI / 2, style: {text: yTitle, font: '28px ' + FONT, fill: '#000', textAlign: 'center', textVerticalAlign: 'middle'}});

const chart = echarts.init(document.getElementById('c'), null, {renderer: 'canvas'});
chart.setOption({
  animation: false,
  backgroundColor: '#fff',
  grid: grids, xAxis: xAxes, yAxis: yAxes, series: series,
  graphic: {elements: graphics}
});
</script></body></html>
